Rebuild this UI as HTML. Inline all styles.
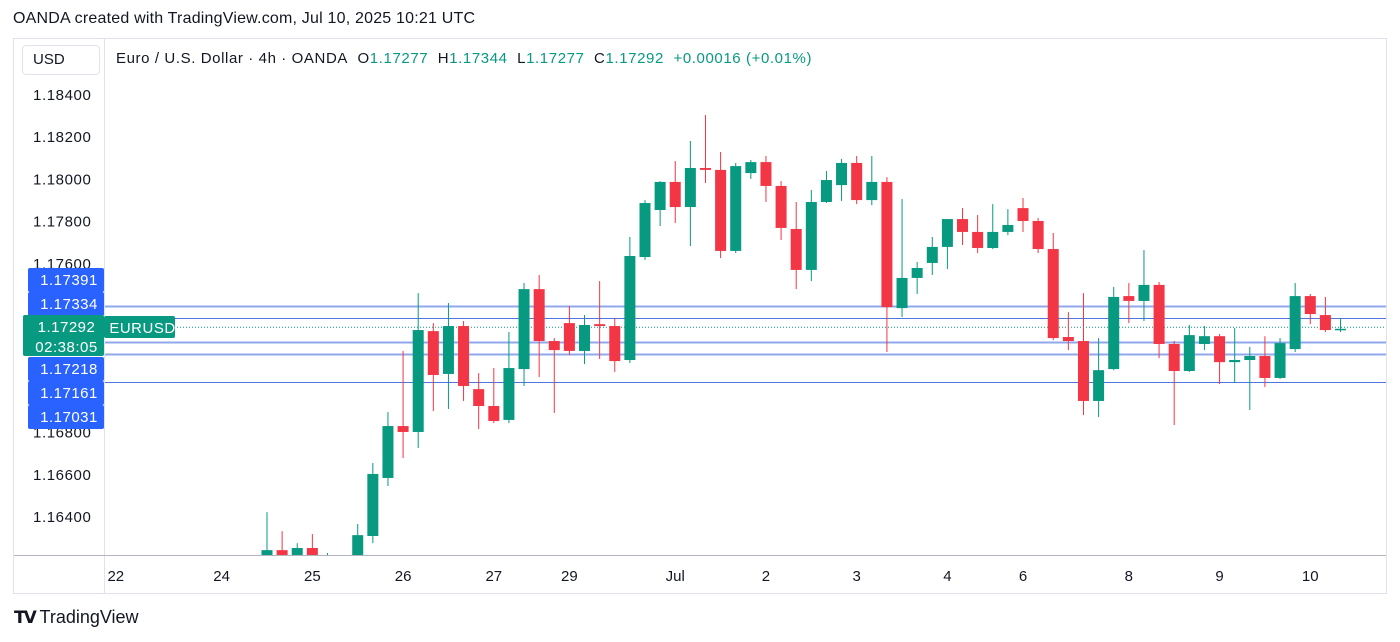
<!DOCTYPE html>
<html><head><meta charset="utf-8">
<style>
body{margin:0;background:#fff;font-family:"Liberation Sans",sans-serif;}
#wrap{position:relative;width:1400px;height:642px;overflow:hidden;background:#fff;}
.t{position:absolute;white-space:nowrap;}
</style></head>
<body>
<div id="wrap">
<div class="t" style="left:13px;top:10px;font-size:16px;letter-spacing:0.2px;color:#131722">OANDA created with TradingView.com, Jul 10, 2025 10:21 UTC</div>
<svg id="chart" width="1400" height="642" style="position:absolute;left:0;top:0"></svg>
<div class="t" style="left:22px;top:45px;width:78px;height:30px;border:1px solid #e0e3eb;border-radius:4px;box-sizing:border-box;font-size:15px;line-height:28px;padding-left:10px;color:#131722;background:#fff">USD</div>
<div class="t" style="left:116px;top:50px;font-size:15px;letter-spacing:0.6px;color:#131722">Euro / U.S. Dollar · 4h · OANDA&nbsp;&nbsp;O<span style="color:#089981">1.17277</span>&nbsp;&nbsp;H<span style="color:#089981">1.17344</span>&nbsp;&nbsp;L<span style="color:#089981">1.17277</span>&nbsp;&nbsp;C<span style="color:#089981">1.17292</span>&nbsp;&nbsp;<span style="color:#089981">+0.00016 (+0.01%)</span></div>
<div class="t" style="left:14px;top:607px;font-size:17px;color:#131722;font-weight:bold"><span style="font-size:17px;letter-spacing:-2px">𝗧𝗩</span> <span style="font-weight:normal;font-size:18px">TradingView</span></div>
</div>
<script>
const opens=[1.16220,1.16243,1.16220,1.16253,1.16190,1.16180,1.16196,1.16310,1.16585,1.16831,1.16803,1.17281,1.17078,1.17305,1.17006,1.16926,1.16860,1.17101,1.17480,1.17234,1.17319,1.17187,1.17314,1.17305,1.17144,1.17632,1.17855,1.17988,1.17869,1.18054,1.18045,1.17661,1.18030,1.18082,1.17969,1.17765,1.17571,1.17893,1.17973,1.18078,1.17902,1.17988,1.17390,1.17533,1.17604,1.17680,1.17812,1.17751,1.17675,1.17751,1.17864,1.17803,1.17670,1.17253,1.17234,1.16950,1.17101,1.17447,1.17424,1.17500,1.17220,1.17092,1.17220,1.17257,1.17134,1.17144,1.17163,1.17059,1.17196,1.17447,1.17357,1.17286];
const highs=[1.16423,1.16333,1.16276,1.16319,1.16229,1.16200,1.16367,1.16656,1.16897,1.17187,1.17461,1.17319,1.17414,1.17329,1.17082,1.17106,1.17277,1.17509,1.17547,1.17248,1.17400,1.17357,1.17518,1.17343,1.17727,1.17902,1.17992,1.18087,1.18182,1.18305,1.18130,1.18078,1.18092,1.18111,1.17992,1.17893,1.17950,1.18040,1.18097,1.18111,1.18111,1.18011,1.17907,1.17609,1.17727,1.17812,1.17864,1.17831,1.17883,1.17859,1.17912,1.17817,1.17746,1.17371,1.17461,1.17248,1.17490,1.17509,1.17665,1.17514,1.17234,1.17310,1.17305,1.17267,1.17296,1.17206,1.17257,1.17248,1.17509,1.17457,1.17443,1.17338];
const lows=[1.16205,1.16205,1.16205,1.16205,1.16150,1.16120,1.16186,1.16276,1.16547,1.16679,1.16727,1.16902,1.16912,1.16950,1.16817,1.16845,1.16845,1.17021,1.17063,1.16893,1.17168,1.17125,1.17149,1.17087,1.17130,1.17618,1.17779,1.17793,1.17684,1.17983,1.17627,1.17651,1.18002,1.17893,1.17713,1.17480,1.17518,1.17888,1.17898,1.17883,1.17878,1.17182,1.17348,1.17457,1.17547,1.17575,1.17689,1.17651,1.17670,1.17736,1.17751,1.17651,1.17238,1.17191,1.16883,1.16874,1.17096,1.17319,1.17329,1.17153,1.16836,1.17087,1.17191,1.17030,1.17035,1.16907,1.17016,1.17054,1.17182,1.17314,1.17277,1.17277];
const closes=[1.16243,1.16220,1.16253,1.16220,1.16195,1.16170,1.16314,1.16604,1.16831,1.16803,1.17286,1.17073,1.17305,1.17021,1.16926,1.16855,1.17106,1.17480,1.17234,1.17191,1.17187,1.17310,1.17305,1.17139,1.17637,1.17888,1.17988,1.17869,1.18054,1.18045,1.17661,1.18063,1.18082,1.17969,1.17770,1.17571,1.17893,1.17997,1.18078,1.17902,1.17988,1.17395,1.17533,1.17580,1.17680,1.17812,1.17751,1.17675,1.17751,1.17784,1.17803,1.17670,1.17248,1.17234,1.16950,1.17096,1.17443,1.17424,1.17500,1.17220,1.17092,1.17262,1.17257,1.17134,1.17144,1.17163,1.17059,1.17224,1.17447,1.17362,1.17286,1.17292];
const yTicks=[1.184,1.182,1.180,1.178,1.176,1.174,1.172,1.170,1.168,1.166,1.164];
const xLabels=["22","24","25","26","27","29","Jul","2","3","4","6","8","9","10"];
const xLabelIdx=[-10,-3,3,9,15,20,27,33,39,45,50,57,63,69];
const levels=[1.17391,1.17334,1.17218,1.17161,1.17031];
const levelStyle=["light","dark","light","light","dark"];
const lastPrice=1.17292;

const NS="http://www.w3.org/2000/svg";
const svg=document.getElementById('chart');
const plot={l:105,r:1386,t:40,b:555};
const yScale=v=>95+(1.184-v)*21100;
const xScale=i=>267+i*15.12;
function mk(tag,attrs,parent){const e=document.createElementNS(NS,tag);for(const k in attrs)e.setAttribute(k,attrs[k]);(parent||svg).appendChild(e);return e;}
const frame=mk('rect',{x:13.5,y:38.5,width:1373,height:555,fill:'none',stroke:'#e0e3eb'});


const vdiv=mk('line',{x1:104.5,y1:39,x2:104.5,y2:593,stroke:'#e0e3eb'});


const hdiv=mk('line',{x1:14,y1:555.5,x2:1386,y2:555.5,stroke:'#b2b5be'});


const defs=mk('defs',{});
const cp=mk('clipPath',{id:'pc'},defs);
mk('rect',{x:plot.l,y:plot.t,width:plot.r-plot.l,height:plot.b-plot.t},cp);
const g=mk('g',{'clip-path':'url(#pc)'});


yTicks.forEach(v=>{
  const t=mk('text',{x:33,y:yScale(v)+5,'font-size':15,'letter-spacing':0.6,fill:'#131722','font-family':'Liberation Sans'});
  t.textContent=v.toFixed(5);
  
  
});
xLabels.forEach((s,k)=>{
  const t=mk('text',{x:xScale(xLabelIdx[k]),y:581,'font-size':15,fill:'#131722','text-anchor':'middle','font-family':'Liberation Sans'});
  t.textContent=s;
  
  
});
levels.forEach((v,k)=>{
  const y=Math.round(yScale(v))-1.5;
  const l=mk('line',{x1:plot.l,y1:y,x2:plot.r,y2:y,stroke:levelStyle[k]=='light'?'#8fa8ec':'#4f74dc','stroke-width':levelStyle[k]=='light'?2:1},g);
  
  
});
const pl=mk('line',{x1:plot.l,y1:yScale(lastPrice)-1.5,x2:plot.r,y2:yScale(lastPrice)-1.5,stroke:'#089981','stroke-dasharray':'1 2'},g);


opens.forEach((o,i)=>{
  const c=closes[i],h=highs[i],lo=lows[i];
  const up=c>=o;const col=up?'#089981':'#f23645';
  const x=xScale(i);
  const w=mk('line',{x1:x,y1:yScale(h),x2:x,y2:yScale(lo),stroke:col,'stroke-width':1},g);
  
  
  const top=yScale(Math.max(o,c)),bot=yScale(Math.min(o,c));
  const b=mk('rect',{x:x-5.5,y:top,width:11,height:Math.max(1.5,bot-top),fill:col},g);
  
  
});
function box(x,y,w,h,fill,lines,name){
  const r=mk('rect',{x:x,y:y,width:w,height:h,rx:2,fill:fill});
  
  
  lines.forEach((s,k)=>{
    const t=mk('text',{x:x+w/2+3,y:y+17+k*20,'font-size':15,'letter-spacing':0.5,fill:'#fff','text-anchor':'middle','font-family':'Liberation Sans'});
    t.textContent=s;
    
    
  });
}
box(28,268,76,24,'#2962ff',['1.17391'],'level-label');
box(28,292,76,24,'#2962ff',['1.17334'],'level-label');
box(28,357,76,24,'#2962ff',['1.17218'],'level-label');
box(28,381,76,24,'#2962ff',['1.17161'],'level-label');
box(28,405,76,24,'#2962ff',['1.17031'],'level-label');
box(23,315,81,41,'#089981',['1.17292','02:38:05'],'last-price-label');
box(104,316,71,22,'#089981',['EURUSD'],'symbol-tag');
</script>
</body></html>
